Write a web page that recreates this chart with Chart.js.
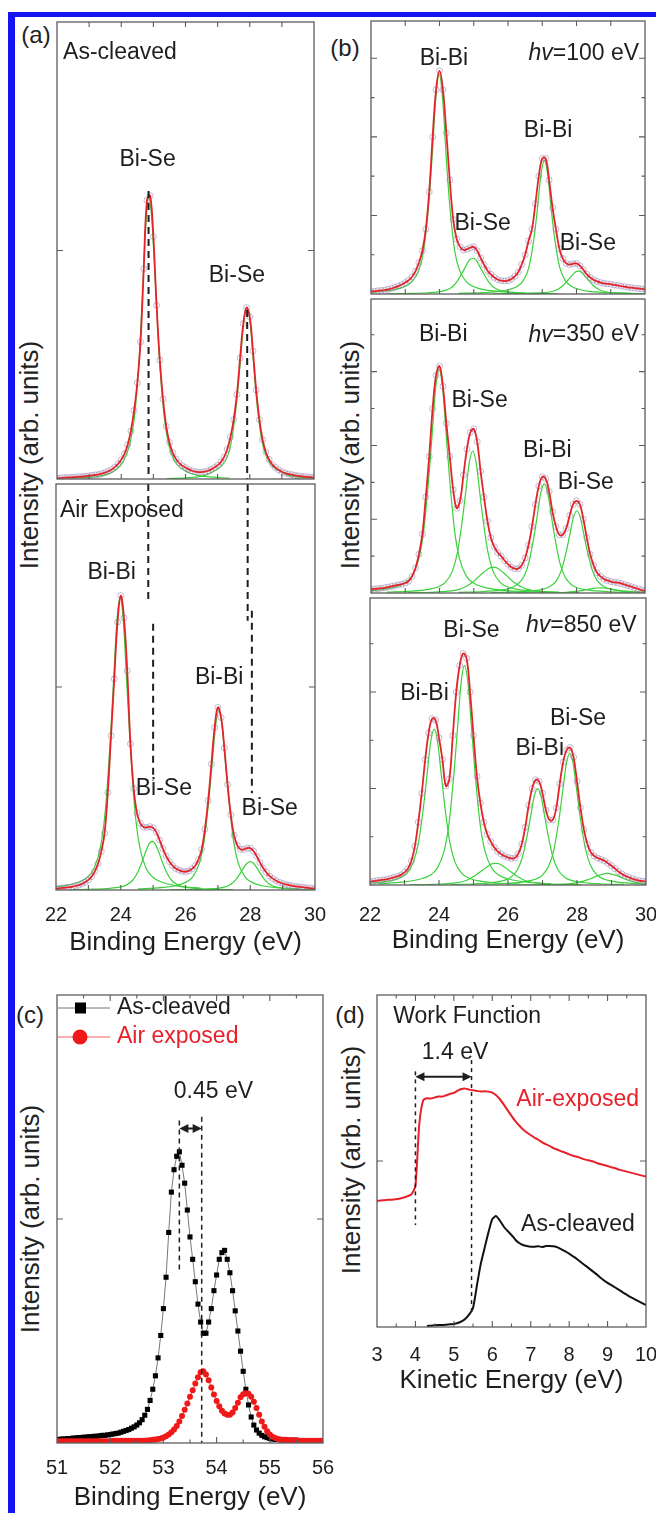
<!DOCTYPE html>
<html lang="en">
<head>
<meta charset="UTF-8">
<title>Bi 5d core levels and work function</title>
<style>
  html, body { margin: 0; padding: 0; background: #fff; overflow: hidden; }
  #fig { position: relative; width: 656px; height: 1513px; overflow: hidden;
         font-family: "Liberation Sans", Arial, sans-serif; color: #222; }
  #fig canvas { position: absolute; }
  .bar { position: absolute; background: #1414f0; }
  .tag { position: absolute; font-size: 24px; line-height: 1; transform: translate(-50%, -50%); white-space: nowrap; }
  .ytitle { position: absolute; font-size: 26px; line-height: 1; white-space: nowrap;
            transform: translate(-50%, -50%) rotate(-90deg); }
</style>
</head>
<body>
<div id="fig">
  <div class="bar" style="left:8px;top:12px;width:7px;height:1501px"></div>
  <div class="bar" style="left:8px;top:12px;width:648px;height:5px"></div>
  <div class="tag" style="left:36px;top:35px">(a)</div>
  <div class="tag" style="left:345px;top:48px">(b)</div>
  <div class="tag" style="left:30px;top:1015px">(c)</div>
  <div class="tag" style="left:350px;top:1015px">(d)</div>
  <div class="ytitle" style="left:29px;top:455px">Intensity (arb. units)</div>
  <div class="ytitle" style="left:350px;top:455px">Intensity (arb. units)</div>
  <div class="ytitle" style="left:30px;top:1219px">Intensity (arb. units)</div>
  <div class="ytitle" style="left:351px;top:1160px">Intensity (arb. units)</div>
</div>

<script src="https://cdn.jsdelivr.net/npm/chart.js"></script>
<script>
const FONT = '"Liberation Sans", Arial, sans-serif';
const RED = '#e3242b', GREEN = '#3ad13a', DOTS = 'rgba(150,130,175,0.55)', INK = '#1e1e1e';

function grid(from, to, step) {
  const n = Math.round((to - from) / step);
  return Array.from({length: n + 1}, (_, i) => +(from + i * step).toFixed(2));
}

// ---- Bi 5d spectra, binding energy 22..30 eV every 0.1 eV ----
const bindingE = grid(22, 30, 0.1);

const a1Spec = [0.2,0.2,0.3,0.3,0.35,0.4,0.45,0.5,0.55,0.6,
  0.7,0.8,0.9,1.0,1.2,1.4,1.7,2.1,2.6,3.3,
  4.2,5.5,7.5,10.5,15,21,30,46,61,62,
  53,38,26,17.5,11.5,8,5.8,4.4,3.5,2.9,
  2.5,2.1,1.8,1.6,1.5,1.5,1.6,1.8,2.1,2.5,
  3.0,3.7,4.8,6.5,9.2,13,18.5,26.5,34,37.5,
  35.5,28,19.5,13,8.6,5.9,4.3,3.2,2.5,2.0,
  1.6,1.3,1.1,0.95,0.8,0.7,0.6,0.5,0.45,0.4,
  0.35];
const a2Spec = [0.3,0.4,0.5,0.6,0.7,0.8,1.0,1.2,1.5,1.9,
  2.5,3.3,4.6,6.5,9.5,14,24,38,52,66,
  72.5,67,54,36,25,19,16.5,15.5,15.4,15.6,
  15.3,14.2,12.3,10.2,8.4,7.0,6.0,5.3,4.9,4.6,
  4.5,4.7,5.2,6.0,7.5,10,15,22,31,40,
  45,42.5,35,26,18.5,13.5,11,10,10,10.3,
  10.3,9.6,8.3,6.8,5.4,4.3,3.4,2.8,2.3,1.9,
  1.6,1.4,1.2,1.0,0.9,0.8,0.7,0.6,0.5,0.4,
  0.4];
const b1Spec = [0.06,0.07,0.08,0.09,0.1,0.12,0.14,0.17,0.2,0.24,
  0.29,0.35,0.44,0.58,0.8,1.1,1.65,2.6,4.0,5.2,
  5.68,5.2,4.1,2.9,1.9,1.4,1.2,1.12,1.14,1.18,
  1.2,1.1,0.92,0.75,0.6,0.5,0.42,0.37,0.34,0.33,
  0.34,0.38,0.45,0.56,0.75,1.0,1.35,1.65,2.3,3.0,
  3.45,3.45,2.9,2.2,1.65,1.15,0.9,0.78,0.75,0.77,
  0.78,0.72,0.62,0.5,0.42,0.36,0.32,0.29,0.27,0.26,
  0.25,0.23,0.22,0.2,0.19,0.17,0.16,0.15,0.14,0.13,
  0.12];
const b2Spec = [0.1,0.11,0.12,0.13,0.14,0.16,0.18,0.2,0.22,0.24,
  0.27,0.32,0.45,0.68,1.05,1.6,2.6,3.7,5.0,5.9,
  6.15,5.6,4.6,3.7,2.8,2.3,2.5,3.2,3.9,4.35,
  4.45,4.1,3.3,2.6,1.95,1.5,1.25,1.1,1.0,0.88,
  0.78,0.7,0.66,0.66,0.75,0.95,1.3,1.8,2.4,2.9,
  3.15,3.1,2.75,2.2,1.8,1.58,1.58,1.75,2.1,2.4,
  2.5,2.4,2.0,1.5,1.05,0.75,0.55,0.45,0.38,0.34,
  0.31,0.29,0.28,0.26,0.23,0.2,0.17,0.14,0.11,0.08,
  0.06];
const b3Spec = [0.07,0.08,0.09,0.1,0.11,0.12,0.14,0.16,0.18,0.21,
  0.26,0.34,0.5,0.8,1.3,1.9,2.6,3.15,3.45,3.42,
  3.05,2.6,2.05,2.2,3.1,4.0,4.55,4.8,4.7,4.0,
  3.1,2.25,1.7,1.3,1.05,0.9,0.78,0.7,0.64,0.6,
  0.57,0.55,0.56,0.65,0.85,1.2,1.65,2.0,2.18,2.15,
  1.9,1.55,1.35,1.35,1.6,2.1,2.55,2.8,2.85,2.65,
  2.15,1.6,1.15,0.85,0.68,0.6,0.56,0.53,0.5,0.45,
  0.4,0.34,0.28,0.23,0.19,0.16,0.13,0.11,0.09,0.08,
  0.07];

// ---- fitted components (green), sampled at these offsets from each centre ----
const peakOffsets = [-2.5,-1.8,-1.3,-1.0,-0.8,-0.6,-0.45,-0.3,-0.2,-0.1,0,0.1,0.2,0.3,0.45,0.6,0.8,1.0,1.3,1.8,2.5];

const a1Centers = [24.86, 27.91];
const a1G1 = [0.2,0.4,1.0,2.2,3.8,7.5,13.5,26.5,40,55,61.5,56,43,29.5,15.5,8,4,2.4,1.2,0.5,0.2];
const a1G2 = [0.1,0.3,0.8,1.8,2.8,5,9.5,18,26,34,37,34.5,26,17.5,9,5,2.8,1.8,0.8,0.3,0.1];

const a2Centers = [23.98, 24.97, 27.03, 28.0];
const a2G1 = [0.43,0.94,1.9,3.2,5.4,10.8,20.2,37.4,51.8,66.2,72,66.2,51.8,37.4,20.2,10.8,5.4,3.2,1.9,0.94,0.43];
const a2G2 = [0.1,0.2,0.42,0.72,1.2,2.4,4.3,7.2,9.4,11.3,12,11.3,9.4,7.2,4.3,2.4,1.2,0.72,0.42,0.2,0.1];
const a2G3 = [0.26,0.57,1.1,2.0,3.3,6.6,12.3,22.9,31.7,40.5,44,40.5,31.7,22.9,12.3,6.6,3.3,2.0,1.1,0.57,0.26];
const a2G4 = [0.06,0.12,0.25,0.42,0.7,1.4,2.5,4.2,5.5,6.6,7,6.6,5.5,4.2,2.5,1.4,0.7,0.42,0.25,0.12,0.06];

const b1Centers = [23.99, 24.97, 27.06, 28.05];
const b1G1 = [0.03,0.06,0.11,0.19,0.31,0.59,1.12,2.35,3.58,4.98,5.6,4.98,3.58,2.35,1.12,0.59,0.31,0.19,0.11,0.06,0.03];
const b1G2 = [0.007,0.015,0.032,0.055,0.091,0.18,0.33,0.55,0.71,0.86,0.91,0.86,0.71,0.55,0.33,0.18,0.091,0.055,0.032,0.015,0.007];
const b1G3 = [0.017,0.034,0.065,0.12,0.19,0.36,0.68,1.43,2.18,3.03,3.4,3.03,2.18,1.43,0.68,0.36,0.19,0.12,0.065,0.034,0.017];
const b1G4 = [0.005,0.01,0.02,0.035,0.058,0.116,0.21,0.35,0.45,0.55,0.58,0.55,0.45,0.35,0.21,0.116,0.058,0.035,0.02,0.01,0.005];

const b2Centers = [23.99, 24.97, 25.57, 27.06, 28.01, 28.7];
const b2G1 = [0.036,0.079,0.16,0.27,0.45,0.91,1.69,3.15,4.36,5.57,6.05,5.57,4.36,3.15,1.69,0.91,0.45,0.27,0.16,0.079,0.036];
const b2G2 = [0.023,0.05,0.1,0.17,0.29,0.58,1.08,2.0,2.77,3.54,3.85,3.54,2.77,2.0,1.08,0.58,0.29,0.17,0.1,0.05,0.023];
const b2G3 = [0.008,0.021,0.049,0.098,0.175,0.29,0.42,0.55,0.62,0.68,0.7,0.68,0.62,0.55,0.42,0.29,0.175,0.098,0.049,0.021,0.008];
const b2G4 = [0.018,0.038,0.077,0.13,0.22,0.44,0.83,1.54,2.13,2.72,2.96,2.72,2.13,1.54,0.83,0.44,0.22,0.13,0.077,0.038,0.018];
const b2G5 = [0.013,0.029,0.058,0.1,0.17,0.33,0.62,1.16,1.61,2.05,2.23,2.05,1.61,1.16,0.62,0.33,0.17,0.1,0.058,0.029,0.013];
const b2G6 = [0.002,0.004,0.01,0.02,0.035,0.059,0.084,0.11,0.125,0.136,0.14,0.136,0.125,0.11,0.084,0.059,0.035,0.02,0.01,0.004,0.002];

const b3Centers = [23.86, 24.74, 25.64, 26.86, 27.79, 28.88];
const b3G1 = [0.019,0.042,0.084,0.145,0.24,0.48,0.9,1.68,2.33,2.97,3.23,2.97,2.33,1.68,0.9,0.48,0.24,0.145,0.084,0.042,0.019];
const b3G2 = [0.027,0.059,0.12,0.2,0.34,0.68,1.27,2.37,3.28,4.19,4.55,4.19,3.28,2.37,1.27,0.68,0.34,0.2,0.12,0.059,0.027];
const b3G3 = [0.005,0.014,0.032,0.063,0.11,0.19,0.27,0.35,0.4,0.44,0.45,0.44,0.4,0.35,0.27,0.19,0.11,0.063,0.032,0.014,0.005];
const b3G4 = [0.012,0.026,0.052,0.09,0.15,0.3,0.56,1.04,1.44,1.84,2.0,1.84,1.44,1.04,0.56,0.3,0.15,0.09,0.052,0.026,0.012];
const b3G5 = [0.016,0.035,0.071,0.12,0.2,0.41,0.76,1.42,1.97,2.51,2.73,2.51,1.97,1.42,0.76,0.41,0.2,0.12,0.071,0.035,0.016];
const b3G6 = [0.003,0.007,0.017,0.034,0.06,0.1,0.14,0.19,0.21,0.23,0.24,0.23,0.21,0.19,0.14,0.1,0.06,0.034,0.017,0.007,0.003];

// ---- (c) Se 3d, 51..56 eV every 0.05 eV ----
const seE = grid(51, 56, 0.05);
const cCleaved = [0.8,0.8,0.9,0.9,1.0,1.0,1.1,1.1,1.2,1.2,
  1.3,1.3,1.4,1.4,1.5,1.5,1.6,1.7,1.7,1.8,
  1.9,2.0,2.1,2.2,2.4,2.6,2.8,3.0,3.3,3.6,
  4.0,4.5,5.2,6.2,7.5,9.5,12,15,19,24,
  30,37,47,56,61,64,65,62,58,52,
  46,41,36,31,27,24.5,24.5,27,30,34,
  37.5,41,42.5,43,41,38,34,29.5,25,20.5,
  16,12,8.5,5.8,4.0,2.9,2.2,1.7,1.4,1.2,
  1.0,0.9,0.8,0.8,0.7,0.7,0.7,0.6,0.6,0.6,
  0.6,0.5,0.5,0.5,0.5,0.5,0.5,0.4,0.4,0.4,
  0.4];
const cAir = [0.4,0.4,0.4,0.4,0.4,0.4,0.4,0.4,0.4,0.4,
  0.4,0.4,0.4,0.4,0.4,0.4,0.4,0.4,0.4,0.4,
  0.4,0.5,0.5,0.5,0.5,0.5,0.5,0.5,0.5,0.5,
  0.5,0.5,0.5,0.5,0.55,0.6,0.7,0.8,0.9,1.0,
  1.2,1.5,1.9,2.4,3.0,3.8,4.8,6.0,7.4,8.8,
  10.3,11.8,13.3,14.7,15.8,16.0,15.3,14.0,12.4,10.8,
  9.4,8.2,7.2,6.6,6.3,6.3,6.8,7.8,9.0,10.2,
  10.9,11.1,11.0,10.3,9.2,7.8,6.3,4.8,3.6,2.6,
  1.9,1.4,1.1,0.9,0.8,0.7,0.7,0.6,0.6,0.6,
  0.6,0.5,0.5,0.5,0.5,0.5,0.5,0.5,0.5,0.5,
  0.5];

// ---- (d) secondary-electron cutoff, kinetic energy ----
const keAirE = grid(3, 10, 0.1);
const dAir = [38.0,38.1,38.2,38.3,38.3,38.5,38.7,39.0,39.4,40.0,
  42.5,61,68.2,68.9,68.8,69.1,69.4,69.4,69.8,70.2,
  70.5,71.2,71.7,71.8,71.5,71.3,71.1,70.9,71.0,70.9,
  70.6,69.8,68.6,67.0,65.3,63.6,62.0,60.7,59.5,58.6,
  57.8,57.0,56.4,55.6,55.0,54.5,53.8,53.4,52.9,52.5,
  52.0,51.6,51.3,50.9,50.5,50.2,49.9,49.5,49.1,48.8,
  48.5,48.1,47.8,47.4,47.1,46.8,46.5,46.2,45.9,45.6,
  45.3];
const keCleavedE = grid(4.3, 10, 0.1);
const dCleaved = [0.3,0.4,0.5,0.6,0.6,0.7,0.8,
  0.9,1.2,1.7,2.5,3.8,5.8,12.5,19,23.8,28.5,
  32.5,33.4,32.0,30.2,28.9,27.7,26.3,25.3,24.7,24.4,
  24.2,24.2,24.3,24.1,24.4,24.4,24.3,24.0,23.4,22.8,
  22.1,21.3,20.5,19.6,18.7,17.8,16.9,16.0,15.0,14.1,
  13.3,12.6,11.9,11.2,10.4,9.7,9.0,8.4,7.8,7.2,
  6.6];

// dashed guide lines: [energy, from, to]
const aGuideTop = [[24.85, 63, 0], [27.92, 37, 0]];
const aGuideBottom = [[24.85, 100, 70.5], [25.0, 65.6, 27], [27.92, 100, 66.3], [28.05, 68.8, 23.8]];
const cGuide = [[53.3, 72, 38.6], [53.72, 72.8, 0]];
const dGuide = [[4.0, 77, 30.7], [5.46, 80.4, 4.1]];

// tick positions
const beTicks = [23, 24, 25, 26, 27, 28, 29];
const seTicks = [51.5, 52, 52.5, 53, 53.5, 54, 54.5, 55, 55.5];
const keTicks = [3.5, 4, 4.5, 5, 5.5, 6, 6.5, 7, 7.5, 8, 8.5, 9, 9.5];

const pairs = (xs, ys) => ys.map((y, i) => ({x: xs[i], y}));
const peak = (c, ys) => ys.map((y, i) => ({x: +(c + peakOffsets[i]).toFixed(2), y}));

function specSets(ys, centers, comps) {
  const sets = [
    { data: pairs(bindingE, ys), borderColor: RED, borderWidth: 1.8, pointRadius: 0, tension: 0.4, order: 1 },
    { data: pairs(bindingE, ys), showLine: false, pointRadius: 3, pointBorderColor: DOTS,
      pointBackgroundColor: 'rgba(0,0,0,0)', pointBorderWidth: 1, order: 2 }
  ];
  comps.forEach((g, i) => sets.push({ data: peak(centers[i], g), borderColor: GREEN, borderWidth: 1.2,
    pointRadius: 0, cubicInterpolationMode: 'monotone', order: 3 }));
  return sets;
}
function guideSets(list, width, dash) {
  return list.map(([x, y1, y2]) => ({ data: [{x, y: y1}, {x, y: y2}], borderColor: INK,
    borderWidth: width, borderDash: dash, pointRadius: 0, order: 0 }));
}

const extras = {};

const frameTicks = {
  id: 'frameTicks',
  afterDatasetsDraw(chart) {
    const e = extras[chart.canvas.id] || {};
    const {ctx, chartArea: a} = chart;
    const sx = chart.scales.x, sy = chart.scales.y;
    ctx.save();
    ctx.strokeStyle = '#5c5c5c';
    ctx.lineWidth = 1.3;
    ctx.strokeRect(a.left, a.top, a.right - a.left, a.bottom - a.top);
    ctx.lineWidth = 1.1;
    ctx.beginPath();
    const sides = e.xSides || 'tb';
    (e.xTicks || []).forEach(([v, len]) => {
      const p = sx.getPixelForValue(v);
      if (sides.includes('b')) { ctx.moveTo(p, a.bottom); ctx.lineTo(p, a.bottom - len); }
      if (sides.includes('t')) { ctx.moveTo(p, a.top); ctx.lineTo(p, a.top + len); }
    });
    (e.yTicks || []).forEach(([v, len]) => {
      const p = sy.getPixelForValue(v);
      ctx.moveTo(a.left, p); ctx.lineTo(a.left + len, p);
      ctx.moveTo(a.right, p); ctx.lineTo(a.right - len, p);
    });
    ctx.stroke();
    ctx.restore();
  }
};

const notes = {
  id: 'notes',
  afterDraw(chart) {
    const e = extras[chart.canvas.id] || {};
    const {ctx, chartArea: a} = chart;
    const sx = chart.scales.x, sy = chart.scales.y;
    ctx.save();
    ctx.textBaseline = 'middle';
    (e.labels || []).forEach(l => {
      const px = sx.getPixelForValue(l.x), py = sy.getPixelForValue(l.y);
      const font = (l.size || 23) + 'px ' + FONT;
      ctx.fillStyle = l.color || INK;
      if (l.pre) {
        ctx.font = font;
        const wRest = ctx.measureText(l.t).width;
        ctx.font = 'italic ' + font;
        const wPre = ctx.measureText(l.pre).width;
        const x0 = l.align === 'right' ? px - wRest - wPre : px;
        ctx.textAlign = 'left';
        ctx.fillText(l.pre, x0, py);
        ctx.font = font;
        ctx.fillText(l.t, x0 + wPre, py);
      } else {
        ctx.font = font;
        ctx.textAlign = l.align || 'center';
        ctx.fillText(l.t, px, py);
      }
    });
    (e.arrows || []).forEach(([x1, x2, y]) => {
      const p1 = sx.getPixelForValue(x1), p2 = sx.getPixelForValue(x2), py = sy.getPixelForValue(y);
      ctx.strokeStyle = INK; ctx.fillStyle = INK; ctx.lineWidth = 2;
      ctx.beginPath(); ctx.moveTo(p1 + 6, py); ctx.lineTo(p2 - 6, py); ctx.stroke();
      [[p1, 1], [p2, -1]].forEach(([p, d]) => {
        ctx.beginPath(); ctx.moveTo(p, py); ctx.lineTo(p + d * 9, py - 4.5);
        ctx.lineTo(p + d * 9, py + 4.5); ctx.closePath(); ctx.fill();
      });
    });
    (e.legend || []).forEach((it, i) => {
      const y = a.top + 13 + i * 29;
      ctx.strokeStyle = it.line; ctx.lineWidth = 1;
      ctx.beginPath(); ctx.moveTo(a.left + 1, y); ctx.lineTo(a.left + 53, y); ctx.stroke();
      ctx.fillStyle = it.color;
      ctx.beginPath();
      if (it.shape === 'rect') ctx.rect(a.left + 18, y - 5.5, 11, 11);
      else ctx.arc(a.left + 23, y, 7.5, 0, Math.PI * 2);
      ctx.fill();
      ctx.font = '23px ' + FONT; ctx.textAlign = 'left';
      ctx.fillStyle = it.text;
      ctx.fillText(it.label, a.left + 60, y);
    });
    ctx.restore();
  }
};

function panel(id, box, m, opt) {
  const cv = document.createElement('canvas');
  cv.id = id;
  cv.width = box.w + m.l + m.r;
  cv.height = box.h + m.t + m.b;
  cv.style.left = (box.x - m.l) + 'px';
  cv.style.top = (box.y - m.t) + 'px';
  document.getElementById('fig').appendChild(cv);
  extras[id] = opt.extra;
  const showX = !!opt.xTitle;
  return new Chart(cv, {
    type: 'line',
    data: { datasets: opt.datasets },
    options: {
      responsive: false, animation: false, events: [],
      layout: { padding: { left: m.l, right: m.r, top: m.t, bottom: showX ? 0 : m.b } },
      scales: {
        x: {
          type: 'linear', min: opt.xRange[0], max: opt.xRange[1], display: showX,
          grid: { display: false }, border: { display: false },
          ticks: { stepSize: opt.xStep, padding: opt.labelPad || 5, color: INK,
                   font: { family: FONT, size: 20 }, maxRotation: 0, autoSkip: false },
          title: { display: showX, text: opt.xTitle || '', color: INK,
                   font: { family: FONT, size: 26 }, padding: { top: 0, bottom: 4 } },
          afterFit: s => { s.height = m.b; }
        },
        y: { type: 'linear', min: 0, max: opt.yMax, display: false }
      },
      plugins: { legend: { display: false }, tooltip: { enabled: false } }
    },
    plugins: [frameTicks, notes]
  });
}

const small = { l: 4, r: 4, t: 4, b: 4 };
const bTicksY = n => Array.from({length: n}, (_, i) => [i + 1, (i + 1) % 2 ? 3.5 : 6]);

// (a) as-cleaved
panel('a1', { x: 56, y: 21, w: 259, h: 462 }, small, {
  xRange: [22, 30], xStep: 2, yMax: 100,
  datasets: guideSets(aGuideTop, 2, [7, 5]).concat(specSets(a1Spec, a1Centers, [a1G1, a1G2])),
  extra: { xTicks: beTicks.map(v => [v, 5]), xSides: 'tb', yTicks: [[50, 6]],
    labels: [ { t: 'As-cleaved', x: 22.19, y: 93.3, align: 'left' },
              { t: 'Bi-Se', x: 24.82, y: 69.9 }, { t: 'Bi-Se', x: 27.6, y: 44.4 } ] }
});
// (a) air exposed
panel('a2', { x: 56, y: 483, w: 259, h: 407 }, { l: 24, r: 24, t: 4, b: 72 }, {
  xRange: [22, 30], xStep: 2, yMax: 100, xTitle: 'Binding Energy (eV)', labelPad: 5,
  datasets: guideSets(aGuideBottom, 2, [7, 5]).concat(specSets(a2Spec, a2Centers, [a2G1, a2G2, a2G3, a2G4])),
  extra: { xTicks: beTicks.map(v => [v, 5]), xSides: 'b', yTicks: [[50, 6]],
    labels: [ { t: 'Air Exposed', x: 22.12, y: 93.4, align: 'left' },
              { t: 'Bi-Bi', x: 23.72, y: 78.2 }, { t: 'Bi-Se', x: 25.33, y: 25 },
              { t: 'Bi-Bi', x: 27.04, y: 52.4 }, { t: 'Bi-Se', x: 28.6, y: 20.1 } ] }
});
// (b) photon-energy series
panel('b1', { x: 370, y: 20, w: 276, h: 278 }, small, {
  xRange: [22, 30], xStep: 2, yMax: 6.95,
  datasets: specSets(b1Spec, b1Centers, [b1G1, b1G2, b1G3, b1G4]),
  extra: { xTicks: beTicks.map(v => [v, 5]), xSides: 'tb', yTicks: bTicksY(6),
    labels: [ { pre: 'hv', t: '=100 eV', x: 29.83, y: 6.12, align: 'right' },
              { t: 'Bi-Bi', x: 24.13, y: 5.99 }, { t: 'Bi-Se', x: 25.26, y: 1.8 },
              { t: 'Bi-Bi', x: 27.17, y: 4.16 }, { t: 'Bi-Se', x: 28.33, y: 1.27 } ] }
});
panel('b2', { x: 370, y: 298, w: 276, h: 299 }, small, {
  xRange: [22, 30], xStep: 2, yMax: 7.97,
  datasets: specSets(b2Spec, b2Centers, [b2G1, b2G2, b2G3, b2G4, b2G5, b2G6]),
  extra: { xTicks: beTicks.map(v => [v, 5]), xSides: 'b', yTicks: bTicksY(7),
    labels: [ { pre: 'hv', t: '=350 eV', x: 29.83, y: 6.99, align: 'right' },
              { t: 'Bi-Bi', x: 24.11, y: 6.99 }, { t: 'Bi-Se', x: 25.17, y: 5.21 },
              { t: 'Bi-Bi', x: 27.15, y: 3.87 }, { t: 'Bi-Se', x: 28.27, y: 2.99 } ] }
});
panel('b3', { x: 370, y: 597, w: 276, h: 288 }, { l: 24, r: 24, t: 4, b: 75 }, {
  xRange: [22, 30], xStep: 2, yMax: 5.95, xTitle: 'Binding Energy (eV)', labelPad: 10,
  datasets: specSets(b3Spec, b3Centers, [b3G1, b3G2, b3G3, b3G4, b3G5, b3G6]),
  extra: { xTicks: beTicks.map(v => [v, 5]), xSides: 'b', yTicks: bTicksY(5),
    labels: [ { pre: 'hv', t: '=850 eV', x: 29.73, y: 5.37, align: 'right' },
              { t: 'Bi-Se', x: 24.94, y: 5.27 }, { t: 'Bi-Bi', x: 23.58, y: 3.97 },
              { t: 'Bi-Bi', x: 26.92, y: 2.82 }, { t: 'Bi-Se', x: 28.03, y: 3.44 } ] }
});
// (c) Se 3d
panel('c', { x: 57, y: 995, w: 266, h: 448 }, { l: 24, r: 24, t: 4, b: 74 }, {
  xRange: [51, 56], xStep: 1, yMax: 100, xTitle: 'Binding Energy (eV)', labelPad: 5,
  datasets: guideSets(cGuide, 1.5, [5, 4]).concat([
    { data: pairs(seE, cAir), borderColor: '#f01818', borderWidth: 0.8, pointRadius: 3,
      pointBackgroundColor: '#f01818', pointBorderWidth: 0, tension: 0, order: 1 },
    { data: pairs(seE, cCleaved), borderColor: '#555', borderWidth: 0.8, pointStyle: 'rect', pointRadius: 3.6,
      pointBackgroundColor: '#000', pointBorderWidth: 0, tension: 0, order: 2 }
  ]),
  extra: { xTicks: seTicks.map(v => [v, Number.isInteger(v) ? 6 : 3.5]), xSides: 'tb', yTicks: [[50, 6]],
    labels: [ { t: '0.45 eV', x: 53.94, y: 78.4 } ],
    arrows: [[53.3, 53.72, 70.2]],
    legend: [ { label: 'As-cleaved', shape: 'rect', color: '#000', line: '#777', text: INK },
              { label: 'Air exposed', shape: 'circle', color: '#f01818', line: '#f06060', text: '#e8202a' } ] }
});
// (d) work function
panel('d', { x: 377, y: 995, w: 269, h: 332 }, { l: 24, r: 24, t: 4, b: 73 }, {
  xRange: [3, 10], xStep: 1, yMax: 100, xTitle: 'Kinetic Energy (eV)', labelPad: 8,
  datasets: guideSets(dGuide, 1.5, [4, 4]).concat([
    { data: pairs(keAirE, dAir), borderColor: '#e8202a', borderWidth: 2, pointRadius: 0, tension: 0.2, order: 1 },
    { data: pairs(keCleavedE, dCleaved), borderColor: '#111', borderWidth: 2, pointRadius: 0, tension: 0.2, order: 1 }
  ]),
  extra: { xTicks: keTicks.map(v => [v, Number.isInteger(v) ? 6 : 3.5]), xSides: 'tb', yTicks: [[50, 6]],
    labels: [ { t: 'Work Function', x: 3.42, y: 93.5, align: 'left' },
              { t: '1.4 eV', x: 5.03, y: 82.5 },
              { t: 'Air-exposed', x: 9.82, y: 68.4, align: 'right', color: '#e8202a' },
              { t: 'As-cleaved', x: 9.71, y: 30.7, align: 'right' } ],
    arrows: [[4.0, 5.46, 75.4]] }
});
</script>
</body>
</html>
